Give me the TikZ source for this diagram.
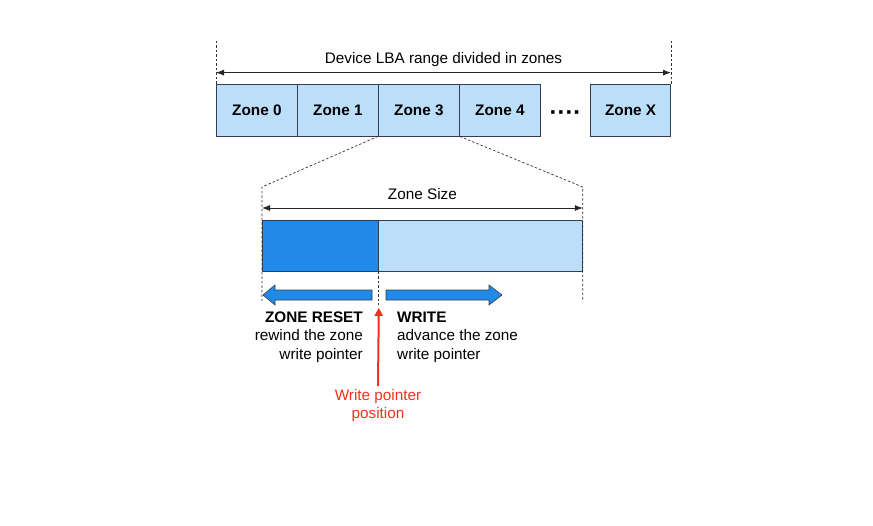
\documentclass[tikz,border=0pt]{standalone}
\usepackage{fontspec}
\setmainfont{Liberation Sans}
\usetikzlibrary{matrix, positioning, arrows.meta}

\definecolor{zoneline}{RGB}{52,62,78}
\definecolor{zonelight}{RGB}{187,222,251}
\definecolor{zonedark}{RGB}{33,137,232}
\definecolor{pointerred}{RGB}{240,50,30}

\begin{document}
\begin{tikzpicture}[x=1pt, y=-1pt,
		font=\fontsize{15.3}{18.5}\selectfont,
		zone/.style={draw=zoneline, fill=zonelight, line width=0.8pt, minimum width=81pt, minimum height=52pt, inner sep=0pt, font=\fontsize{15.3}{18.5}\selectfont\bfseries},
		guide/.style={draw=black!80, dash pattern=on 2.5pt off 2pt, line width=0.7pt},
		dim/.style={draw=black!85, line width=0.8pt, {Latex[length=8pt,width=6pt]}-{Latex[length=8pt,width=6pt]}},
		block/.style={draw=zoneline, fill=zonedark, line width=0.6pt},
		pointer/.style={draw=pointerred, line width=2pt, -{Triangle[length=8pt,width=8pt]}}
	]
	\useasboundingbox (0,0) rectangle (873,525);
		\matrix [matrix of nodes,
		column sep=-0.8pt,
		nodes={zone, anchor=center},
		column 5/.style={nodes={draw=none, fill=none, minimum width=51pt, font=\fontsize{24}{24}\selectfont\bfseries}},
		column 6/.style={nodes={minimum width=80pt}}
		]
		(zones) at (443.5,110)
		{ Zone 0 & Zone 1 & Zone 3 & Zone 4 & \smash{\raisebox{-10pt}{····}} & Zone X \\
		};
		\node [zone, fill=zonedark, minimum width=116pt, minimum height=51pt, anchor=north west] (written) at (262,220) {};
		\node [zone, minimum width=204pt, minimum height=51pt, right=-0.8pt of written] (empty) {};
		\coordinate (lba west) at ([yshift=44pt]zones-1-1.north west);
		\coordinate (lba east) at ([yshift=44pt]zones-1-6.north east);
		\coordinate (zoom west) at ([yshift=33pt]written.north west);
		\coordinate (zoom east) at ([yshift=33pt]empty.north east);
		\draw [guide] (zones-1-1.north west) -- (lba west);
		\draw [guide] (zones-1-6.north east) -- (lba east);
		\draw [guide] (zones-1-3.south west) -- (zoom west) -- ([yshift=-29pt]written.south west);
		\draw [guide] (zones-1-3.south east) -- (zoom east) -- ([yshift=-29pt]empty.south east);
		\draw [guide] (written.south east) -- ([yshift=-33pt]written.south east);
		\draw [dim] ([yshift=11pt]zones-1-1.north west) -- node [anchor=base, yshift=8.7pt] (lba label) {Device LBA range divided in zones} ([yshift=11pt]zones-1-6.north east);
		\draw [dim] ([yshift=12pt]written.north west) -- node [anchor=base, yshift=8.5pt] (size label) {Zone Size} ([yshift=12pt]empty.north east);
		\filldraw [block] (263,295) -- (275,285) -- (275,290) -- (372,290) -- (372,300) -- (275,300) -- (275,305) -- cycle;
		\filldraw [block] (502,295) -- (489,285) -- (489,290) -- (386,290) -- (386,300) -- (489,300) -- (489,305) -- cycle;
		\node [anchor=north east, align=right, inner sep=0pt] (reset text) at (363,311.5) {\textbf{ZONE RESET}\\rewind the zone\\write pointer};
		\node [anchor=north west, align=left, inner sep=0pt] (write text) at (397,311.5) {\textbf{WRITE}\\advance the zone\\write pointer};
		\node [anchor=north, align=center, inner sep=3pt, text=pointerred] (pointer label) at (378,386) {Write pointer\\position};
		\draw [pointer] (pointer label.north) -- ([yshift=-36pt]written.south east);
	\end{tikzpicture}
\end{document}
